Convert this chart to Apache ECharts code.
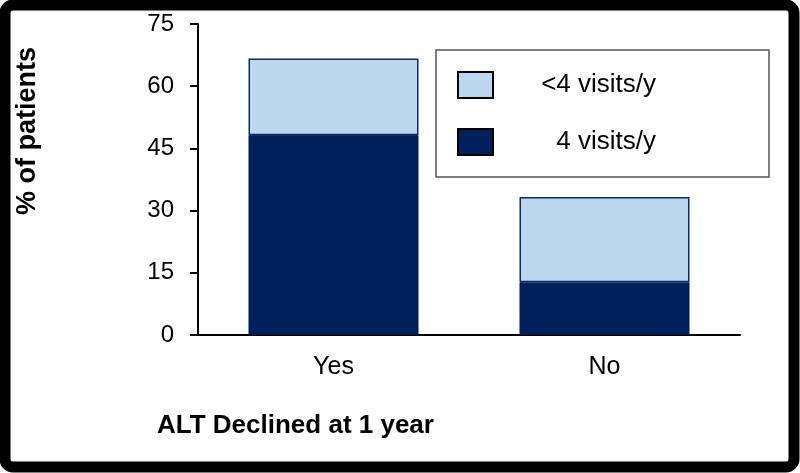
<!DOCTYPE html>
<html>
<head>
<meta charset="utf-8">
<script src="https://cdn.jsdelivr.net/npm/echarts@6/dist/echarts.min.js"></script>
<style>
html,body{margin:0;padding:0;background:#fff;}
#c{width:800px;height:473px;}
</style>
</head>
<body>
<div id="c"></div>
<script>
const categories = ['Yes', 'No'];
const seriesNames = ['4 visits/y', '<4 visits/y'];
const fourVisits = [48.2, 12.7];
const lessFourVisits = [18.5, 20.6];
const yTicks = [0, 15, 30, 45, 60, 75];
const yAxisTitle = '% of patients';
const xAxisTitle = 'ALT Declined at 1 year';

const FONT = '"Liberation Sans", Arial, sans-serif';
const chart = echarts.init(document.getElementById('c'));
chart.setOption({
  backgroundColor: '#fff',
  animation: false,
  grid: { left: 198, right: 60, top: 24, bottom: 138 },
  legend: {
    data: [seriesNames[1], seriesNames[0]],
    orient: 'vertical',
    left: 436, top: 50,
    padding: [21, 113, 21, 21],
    itemWidth: 35, itemHeight: 26, itemGap: 29,
    icon: 'rect',
    borderColor: '#555', borderWidth: 1.5,
    backgroundColor: '#fff',
    itemStyle: { borderColor: '#000', borderWidth: 2 },
    formatter: n => '{a|' + n + '}',
    textStyle: {
      rich: { a: { width: 158, align: 'right', fontSize: 26, fontFamily: FONT, color: '#000' } }
    },
    selectedMode: false
  },
  xAxis: {
    type: 'category',
    data: categories,
    axisLine: { lineStyle: { color: '#000', width: 2 } },
    axisTick: { show: false },
    axisLabel: { fontSize: 25, fontFamily: FONT, color: '#000', margin: 20 }
  },
  yAxis: {
    type: 'value',
    min: yTicks[0], max: yTicks[yTicks.length - 1], interval: 15,
    axisLine: { show: true, lineStyle: { color: '#000', width: 2 } },
    axisTick: { show: true, length: 8, lineStyle: { color: '#000', width: 2 } },
    splitLine: { show: false },
    axisLabel: { fontSize: 24, fontFamily: FONT, color: '#000', margin: 24 }
  },
  series: [
    {
      name: seriesNames[0], type: 'bar', stack: 's', data: fourVisits,
      barWidth: 170,
      itemStyle: { color: '#00205c', borderColor: '#001a50', borderWidth: 1 }
    },
    {
      name: seriesNames[1], type: 'bar', stack: 's', data: lessFourVisits,
      barWidth: 170,
      itemStyle: { color: '#bdd7ee', borderColor: '#0a2a6a', borderWidth: 1.5 }
    }
  ],
  graphic: [
    {
      type: 'rect', silent: true, z: 100,
      shape: { x: 5, y: 5, width: 789, height: 462, r: 8 },
      style: { fill: null, stroke: '#000', lineWidth: 11 }
    },
    {
      type: 'text', x: 28, y: 131, rotation: Math.PI / 2,
      style: { text: yAxisTitle, font: 'bold 27px ' + FONT, fill: '#000', align: 'center', verticalAlign: 'middle' }
    },
    {
      type: 'text', x: 157, y: 426,
      style: { text: xAxisTitle, font: 'bold 26px ' + FONT, fill: '#000', align: 'left', verticalAlign: 'middle' }
    }
  ]
});
</script>
</body>
</html>
